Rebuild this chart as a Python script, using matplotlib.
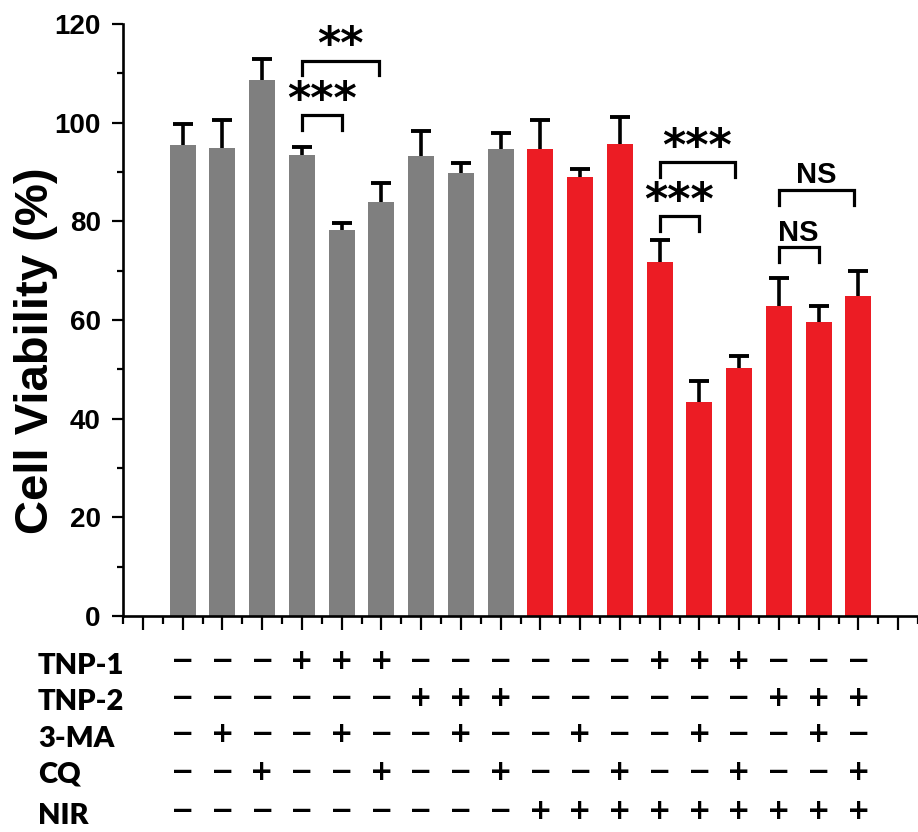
import numpy as np
import matplotlib
matplotlib.use('Agg')
import matplotlib.pyplot as plt
from matplotlib import transforms

# cell viability per treatment group (%), mean and SD
viability = [95.4, 94.9, 108.6, 93.5, 78.2, 83.9, 93.3, 89.7, 94.6,
             94.6, 88.9, 95.6, 71.8, 43.3, 50.2, 62.8, 59.5, 64.8]
sd        = [4.3, 5.7, 4.4, 1.5, 1.4, 3.8, 5.0, 2.2, 3.3,
             5.9, 1.7, 5.6, 4.4, 4.4, 2.5, 5.7, 3.4, 5.2]
nir_on    = [False] * 9 + [True] * 9

# treatment table under the axis
row_names = ['TNP-1', 'TNP-2', '3-MA', 'CQ', 'NIR']
row_marks = ['---+++------+++---',
             '------+++------+++',
             '-+--+--+--+--+--+-',
             '--+--+--+--+--+--+',
             '---------+++++++++']

# significance brackets: (x left, x right, top, label)
brackets = [(4, 5.95, 112.6, '**'),
            (4, 5.0, 101.5, '***'),
            (13, 14.9, 92.0, '***'),
            (13, 14.0, 81.0, '***'),
            (16, 17.9, 86.3, 'NS'),
            (16, 17.0, 74.7, 'NS')]

GRAY = '#7f7f7f'
RED  = '#ec1c24'
W, H = 918, 832

fig = plt.figure(figsize=(W / 100, H / 100), dpi=100)
ax = fig.add_axes([123 / W, (H - 616) / H, (W - 123) / W, 592 / H])

x = np.arange(1, len(viability) + 1)
colors = [RED if n else GRAY for n in nir_on]
ax.bar(x, viability, width=0.65, color=colors, zorder=2)
eb = ax.errorbar(x, viability, yerr=[np.zeros(len(sd)), sd], fmt='none',
                 ecolor='black', elinewidth=2.6, capsize=7, capthick=2.8,
                 zorder=3)
# upper error only: hide the cap sitting on the bar top
eb[1][0].set_visible(False)

for x0, x1, top, label in brackets:
    ax.plot([x0, x0, x1, x1], [top - 3.0, top, top, top - 3.0],
            color='black', lw=2.3, solid_joinstyle='miter', zorder=4)
    if label == 'NS':
        ax.text((x0 + x1) / 2, top + 1.4, label, ha='center', va='baseline',
                fontsize=21, fontweight='bold', family='Liberation Sans')
    else:
        ax.text((x0 + x1) / 2, top + 0.5, label, ha='center', va='baseline',
                fontsize=32, fontweight='bold', family='DejaVu Sans')

ax.set_xlim(-0.5, 19.375)
ax.set_ylim(0, 120)
ax.set_yticks(np.arange(0, 121, 20))
ax.set_yticks(np.arange(10, 120, 20), minor=True)
ax.set_xticks(np.arange(0, 20))
ax.set_xticks(np.arange(-0.5, 19.6, 1), minor=True)
ax.set_xticklabels([])
for s in ['top', 'right']:
    ax.spines[s].set_visible(False)
for s in ['left', 'bottom']:
    ax.spines[s].set_linewidth(1.9)
ax.tick_params(axis='y', which='major', length=8, width=1.6, pad=8,
               labelsize=20)
ax.tick_params(axis='y', which='minor', length=4.5, width=1.6)
ax.tick_params(axis='x', which='major', length=10, width=1.6)
ax.tick_params(axis='x', which='minor', length=5.5, width=1.6)
for lab in ax.get_yticklabels():
    lab.set_fontweight('bold')
    lab.set_family('Liberation Sans')

fig.text(36 / W, (H - 351) / H, 'Cell Viability (%)', rotation=90,
         ha='center', va='center', fontsize=34, fontweight='bold',
         family='Liberation Sans')

# treatment rows
label_base = [674, 710, 747, 783, 824]
mark_mid   = [661, 698, 734, 772, 811]
tr = transforms.blended_transform_factory(ax.transData, fig.transFigure)
for name, marks, yb, ym in zip(row_names, row_marks, label_base, mark_mid):
    fig.text(38 / W, (H - yb) / H, name, ha='left', va='baseline',
             fontsize=21, fontweight='heavy', family='Lato')
    for i, m in enumerate(marks):
        ax.text(x[i], (H - ym) / H, '+' if m == '+' else '\u2212',
                transform=tr, ha='center', va='center', fontsize=20,
                fontweight='bold', family='DejaVu Sans', clip_on=False)

fig.savefig('out.png', dpi=100)
